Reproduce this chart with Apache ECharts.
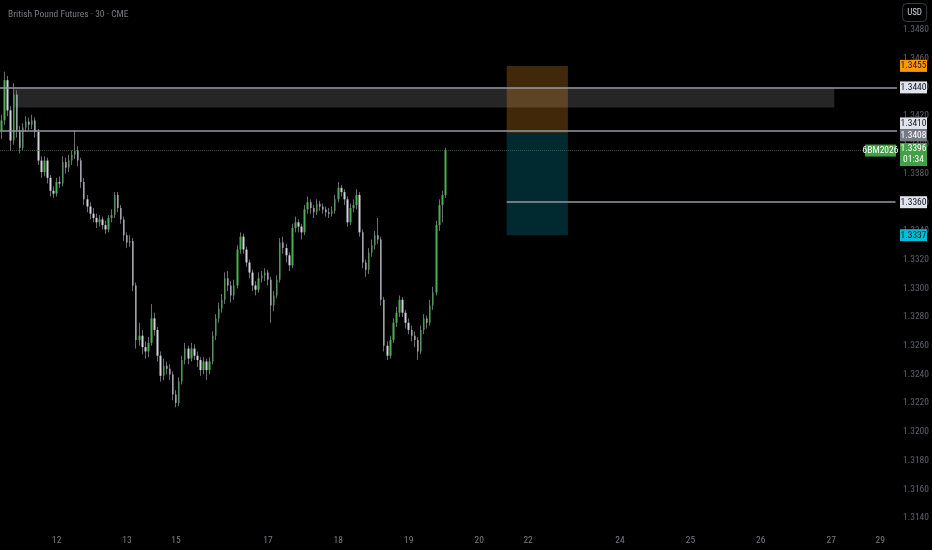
<!DOCTYPE html>
<html>
<head>
<meta charset="utf-8">
<title>British Pound Futures</title>
<script src="https://cdn.jsdelivr.net/npm/echarts@6/dist/echarts.min.js"></script>
<style>
  html, body { margin: 0; padding: 0; background: #000; }
  #chart { width: 932px; height: 550px; }
</style>
</head>
<body>
<div id="chart"></div>
<script>
// 6B futures, candles (one per hour of trading)
var opens = [1.3410,1.3417,1.3445,1.3424,1.3403,1.3435,1.3410,1.3398,1.3412,1.3416,
	1.3414,1.3417,1.3409,1.3389,1.3381,1.3389,1.3377,1.3368,1.3366,1.3374,
	1.3373,1.3388,1.3384,1.3389,1.3393,1.3396,1.3389,1.3374,1.3362,1.3357,
	1.3352,1.3349,1.3346,1.3348,1.3344,1.3341,1.3349,1.3351,1.3365,1.3356,
	1.3348,1.3337,1.3332,1.3333,1.3302,1.3264,1.3267,1.3259,1.3256,1.3262,
	1.3279,1.3271,1.3253,1.3239,1.3246,1.3244,1.3240,1.3226,1.3220,1.3235,
	1.3250,1.3258,1.3251,1.3258,1.3253,1.3250,1.3243,1.3249,1.3243,1.3249,
	1.3267,1.3279,1.3286,1.3292,1.3307,1.3302,1.3295,1.3302,1.3327,1.3336,
	1.3327,1.3318,1.3311,1.3302,1.3299,1.3307,1.3309,1.3311,1.3306,1.3288,
	1.3295,1.3306,1.3332,1.3328,1.3323,1.3316,1.3342,1.3346,1.3343,1.3339,
	1.3355,1.3360,1.3356,1.3353,1.3359,1.3357,1.3355,1.3353,1.3352,1.3354,
	1.3362,1.3370,1.3367,1.3362,1.3346,1.3356,1.3358,1.3365,1.3339,1.3318,
	1.3313,1.3325,1.3330,1.3337,1.3334,1.3292,1.3260,1.3253,1.3264,1.3276,
	1.3283,1.3292,1.3283,1.3276,1.3271,1.3267,1.3264,1.3256,1.3271,1.3279,
	1.3276,1.3288,1.3297,1.3344,1.3358,1.3365];
var closes = [1.3417,1.3445,1.3424,1.3403,1.3435,1.3410,1.3398,1.3412,1.3416,1.3414,
	1.3417,1.3409,1.3389,1.3381,1.3389,1.3377,1.3368,1.3366,1.3374,1.3373,
	1.3388,1.3384,1.3389,1.3393,1.3396,1.3389,1.3374,1.3362,1.3357,1.3352,
	1.3349,1.3346,1.3348,1.3344,1.3341,1.3349,1.3351,1.3365,1.3356,1.3348,
	1.3337,1.3332,1.3333,1.3302,1.3264,1.3267,1.3259,1.3256,1.3262,1.3279,
	1.3271,1.3253,1.3239,1.3246,1.3244,1.3240,1.3226,1.3220,1.3235,1.3250,
	1.3258,1.3251,1.3258,1.3253,1.3250,1.3243,1.3249,1.3243,1.3249,1.3267,
	1.3279,1.3286,1.3292,1.3307,1.3302,1.3295,1.3302,1.3327,1.3336,1.3327,
	1.3318,1.3311,1.3302,1.3299,1.3307,1.3309,1.3311,1.3306,1.3288,1.3295,
	1.3306,1.3332,1.3328,1.3323,1.3316,1.3342,1.3346,1.3343,1.3339,1.3355,
	1.3360,1.3356,1.3353,1.3359,1.3357,1.3355,1.3353,1.3352,1.3354,1.3362,
	1.3370,1.3367,1.3362,1.3346,1.3356,1.3358,1.3365,1.3339,1.3318,1.3313,
	1.3325,1.3330,1.3337,1.3334,1.3292,1.3260,1.3253,1.3264,1.3276,1.3283,
	1.3292,1.3283,1.3276,1.3271,1.3267,1.3264,1.3256,1.3271,1.3279,1.3276,
	1.3288,1.3297,1.3344,1.3358,1.3365,1.3396];
var highs = [1.3421,1.3451,1.3448,1.3427,1.3443,1.3438,1.3413,1.3415,1.3420,1.3419,
	1.3421,1.3419,1.3411,1.3392,1.3392,1.3391,1.3379,1.3371,1.3377,1.3378,
	1.3392,1.3391,1.3393,1.3396,1.3410,1.3399,1.3391,1.3377,1.3365,1.3360,
	1.3356,1.3352,1.3351,1.3350,1.3347,1.3351,1.3355,1.3367,1.3367,1.3358,
	1.3350,1.3339,1.3337,1.3335,1.3304,1.3276,1.3271,1.3263,1.3266,1.3289,
	1.3283,1.3273,1.3256,1.3251,1.3249,1.3247,1.3242,1.3229,1.3238,1.3253,
	1.3262,1.3260,1.3262,1.3261,1.3256,1.3252,1.3252,1.3251,1.3252,1.3270,
	1.3282,1.3290,1.3296,1.3311,1.3312,1.3305,1.3306,1.3330,1.3339,1.3338,
	1.3329,1.3320,1.3313,1.3305,1.3311,1.3312,1.3314,1.3313,1.3308,1.3298,
	1.3309,1.3335,1.3336,1.3331,1.3325,1.3345,1.3350,1.3348,1.3345,1.3358,
	1.3364,1.3362,1.3358,1.3362,1.3361,1.3359,1.3357,1.3356,1.3357,1.3365,
	1.3374,1.3372,1.3369,1.3364,1.3359,1.3362,1.3369,1.3367,1.3341,1.3320,
	1.3328,1.3334,1.3340,1.3349,1.3336,1.3294,1.3263,1.3267,1.3279,1.3287,
	1.3295,1.3294,1.3285,1.3279,1.3274,1.3270,1.3266,1.3274,1.3282,1.3281,
	1.3292,1.3301,1.3347,1.3362,1.3368,1.3398];
var lows = [1.3404,1.3414,1.3420,1.3396,1.3400,1.3405,1.3394,1.3396,1.3409,1.3410,
	1.3411,1.3405,1.3386,1.3377,1.3378,1.3373,1.3364,1.3363,1.3364,1.3370,
	1.3371,1.3380,1.3381,1.3386,1.3390,1.3385,1.3370,1.3358,1.3353,1.3348,
	1.3346,1.3342,1.3343,1.3341,1.3338,1.3339,1.3346,1.3349,1.3353,1.3345,
	1.3333,1.3328,1.3329,1.3298,1.3258,1.3260,1.3254,1.3251,1.3252,1.3260,
	1.3267,1.3249,1.3235,1.3236,1.3240,1.3236,1.3222,1.3217,1.3218,1.3233,
	1.3247,1.3247,1.3249,1.3250,1.3245,1.3239,1.3240,1.3236,1.3240,1.3247,
	1.3264,1.3276,1.3283,1.3289,1.3298,1.3290,1.3292,1.3300,1.3324,1.3324,
	1.3315,1.3307,1.3298,1.3295,1.3297,1.3304,1.3305,1.3302,1.3276,1.3284,
	1.3293,1.3304,1.3324,1.3318,1.3312,1.3314,1.3339,1.3339,1.3334,1.3337,
	1.3352,1.3352,1.3349,1.3351,1.3354,1.3352,1.3350,1.3349,1.3350,1.3352,
	1.3360,1.3364,1.3358,1.3343,1.3344,1.3353,1.3355,1.3336,1.3314,1.3308,
	1.3310,1.3322,1.3327,1.3331,1.3288,1.3256,1.3250,1.3251,1.3262,1.3273,
	1.3280,1.3280,1.3272,1.3268,1.3263,1.3259,1.3250,1.3254,1.3268,1.3272,
	1.3274,1.3285,1.3295,1.3340,1.3346,1.3363];

// time axis: hourly slots incl. the empty future part, first slot of each labelled day
var slotCount = 293;
var dayLabels = ['12','13','15','17','18','19','20','22','24','25','26','27','29'];
var daySlots = [18, 41, 57, 87, 110, 133, 156, 172, 202, 225, 248, 271, 287];

// drawings
var zoneTop = 1.3440, zoneBottom = 1.3426, zoneFrom = 4, zoneTo = 272;
var resistance = 1.3410;
var stopPrice = 1.3455, entryPrice = 1.3408, targetPrice = 1.3337, midTarget = 1.3360;
var posFrom = 165, posTo = 185;
var lastPrice = 1.3396, countdown = '01:34', symbolName = '6BM2026';

var categories = [];
for (var i = 0; i < slotCount; i++) categories.push(String(i));

var wickData = [], bodyData = [];
for (var k = 0; k < closes.length; k++) {
	wickData.push([opens[k], closes[k], lows[k], highs[k]]);
	bodyData.push([opens[k], closes[k], Math.min(opens[k], closes[k]), Math.max(opens[k], closes[k])]);
}

var fontNarrow = "'Liberation Sans Narrow', 'Roboto Condensed', 'DejaVu Sans Condensed', Roboto, sans-serif";
var lastSlot = slotCount - 1;
var levelLine = {color: '#9598a1', type: 'solid', width: 1.5};

function priceTag(name, price, bg, fg, dy, size){
	return {
		name: name,
		coord: [lastSlot, price],
		symbol: 'rect',
		symbolSize: size || [27, 12],
		symbolOffset: [18, dy || 0],
		itemStyle: {color: bg},
		label: {color: fg}
	};
}

var chart = echarts.init(document.getElementById('chart'));
var option = {
	backgroundColor: '#000',
	animation: false,
	title: [{
		text: 'British Pound Futures · 30 · CME',
		left: 3, top: 5,
		textStyle: {color: '#787b86', fontSize: 9.5, fontWeight: 'normal', fontFamily: fontNarrow}
	}, {
		text: 'USD',
		right: 5, top: 3,
		padding: [5, 5],
		borderColor: '#363a45', borderWidth: 1, borderRadius: 4,
		textStyle: {color: '#d1d4dc', fontSize: 9, fontWeight: 'normal', fontFamily: fontNarrow}
	}],
	grid: {left: 0, right: 34, top: 1.3, bottom: 3.4},
	xAxis: {
		type: 'category',
		data: categories,
		boundaryGap: true,
		axisLine: {show: false},
		axisTick: {show: false},
		splitLine: {show: false},
		axisLabel: {
			inside: true,
			margin: 1,
			color: '#787b86',
			fontSize: 9.5,
			fontFamily: fontNarrow,
			interval: function(index){ return daySlots.indexOf(index) >= 0; },
			formatter: function(value){
				var n = daySlots.indexOf(Number(value));
				return n >= 0 ? dayLabels[n] : '';
			}
		}
	},
	yAxis: {
		type: 'value',
		position: 'right',
		min: 1.312,
		max: 1.350,
		interval: 0.002,
		axisLine: {show: false},
		axisTick: {show: false},
		splitLine: {show: false},
		axisLabel: {
			color: '#5d606b',
			fontSize: 9.5,
			fontFamily: fontNarrow,
			margin: 6,
			showMinLabel: false,
			showMaxLabel: false,
			formatter: function(v){ return v.toFixed(4); }
		}
	},
	series: [{
		// wicks
		type: 'candlestick',
		data: wickData,
		barWidth: 1,
		clip: false,
		itemStyle: {
			color: 'transparent', color0: 'transparent',
			borderColor: '#6a6d78', borderColor0: '#6a6d78', borderWidth: 1
		},
		markArea: {
			silent: true,
			data: [
				[{xAxis: zoneFrom, yAxis: zoneTop, itemStyle: {color: 'rgba(255,255,255,0.15)'}},
				 {xAxis: zoneTo, yAxis: zoneBottom}],
				[{xAxis: posFrom, yAxis: stopPrice, itemStyle: {color: 'rgba(255,160,30,0.25)'}},
				 {xAxis: posTo, yAxis: entryPrice}],
				[{xAxis: posFrom, yAxis: entryPrice, itemStyle: {color: 'rgba(0,172,200,0.24)'}},
				 {xAxis: posTo, yAxis: targetPrice}]
			]
		}
	}, {
		// bodies
		type: 'candlestick',
		data: bodyData,
		barWidth: 2,
		clip: false,
		itemStyle: {
			color: '#4caf50', color0: '#d1d4dc',
			borderColor: '#4caf50', borderColor0: '#d1d4dc', borderWidth: 0
		},
		markLine: {
			silent: true,
			symbol: 'none',
			precision: 4,
			label: {show: false},
			data: [
				{yAxis: lastPrice, lineStyle: {color: '#2e7d32', type: 'dotted', width: 1, opacity: 0.7}},
				{yAxis: zoneTop, lineStyle: levelLine},
				{yAxis: resistance, lineStyle: levelLine},
				[{coord: [posFrom, midTarget], lineStyle: levelLine},
				 {coord: [lastSlot, midTarget]}]
			]
		},
		markPoint: {
			silent: true,
			label: {
				show: true, position: 'inside', formatter: '{b}',
				fontSize: 9.5, fontFamily: fontNarrow, lineHeight: 11
			},
			data: [
				priceTag(stopPrice.toFixed(4), stopPrice, '#ff9800', '#131722'),
				priceTag(zoneTop.toFixed(4), zoneTop, '#e0e3eb', '#131722'),
				priceTag(resistance.toFixed(4), resistance, '#e0e3eb', '#131722', -7),
				priceTag(entryPrice.toFixed(4), entryPrice, '#787b86', '#ffffff', 2),
				priceTag(lastPrice.toFixed(4) + '\n' + countdown, lastPrice, '#43a047', '#ffffff', 4, [27, 23]),
				{
					name: symbolName,
					coord: [lastSlot, lastPrice],
					symbol: 'rect',
					symbolSize: [31, 12],
					symbolOffset: [-15, 0],
					itemStyle: {color: '#43a047'},
					label: {color: '#ffffff'}
				},
				priceTag(midTarget.toFixed(4), midTarget, '#e0e3eb', '#131722'),
				priceTag(targetPrice.toFixed(4), targetPrice, '#00bcd4', '#131722')
			]
		}
	}]
};
chart.setOption(option);
</script>
</body>
</html>
